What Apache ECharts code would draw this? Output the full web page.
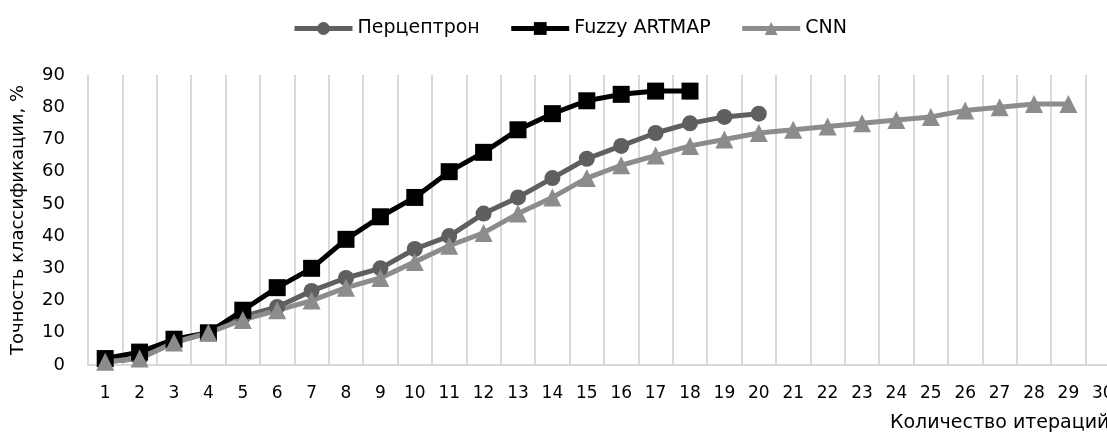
<!DOCTYPE html>
<html>
<head>
<meta charset="utf-8">
<script src="https://cdn.jsdelivr.net/npm/echarts@6/dist/echarts.min.js"></script>
<style>html,body{margin:0;padding:0;background:#fff}#c{width:1107px;height:438px}</style>
</head>
<body>
<div id="c"></div>
<script>
const categories = ['1','2','3','4','5','6','7','8','9','10','11','12','13','14','15','16','17','18','19','20','21','22','23','24','25','26','27','28','29','30'];
const seriesNames = ['Перцептрон', 'Fuzzy ARTMAP', 'CNN'];
const perceptron = [1, 2, 7, 10, 15, 18, 23, 27, 30, 36, 40, 47, 52, 58, 64, 68, 72, 75, 77, 78];
const fuzzyArtmap = [2, 4, 8, 10, 17, 24, 30, 39, 46, 52, 60, 66, 73, 78, 82, 84, 85, 85];
const cnn = [1, 2, 7, 10, 14, 17, 20, 24, 27, 32, 37, 41, 47, 52, 58, 62, 65, 68, 70, 72, 73, 74, 75, 76, 77, 79, 80, 81, 81];
const yTicks = [0, 10, 20, 30, 40, 50, 60, 70, 80, 90];
const yTitle = 'Точность классификации, %';
const xTitle = 'Количество итераций';

const FONT = 'DejaVu Sans';
const chart = echarts.init(document.getElementById('c'), null, {renderer: 'canvas'});
function mk(name, data, color, symbol, size) {
  return {
    name: name, type: 'line', data: data,
    symbol: symbol, symbolSize: size,
    lineStyle: {color: color, width: 5},
    itemStyle: {color: color},
    animation: false
  };
}
chart.setOption({
  animation: false,
  backgroundColor: '#fff',
  textStyle: {fontFamily: FONT},
  legend: {
    top: 14, left: 287,
    itemWidth: 58, itemHeight: 16, itemGap: 29,
    lineStyle: {width: 5},
    textStyle: {fontFamily: FONT, fontSize: 19, color: '#000'},
    data: seriesNames
  },
  grid: {left: 88, width: 1032, top: 75, height: 290, containLabel: false, outerBoundsMode: 'none'},
  xAxis: {
    type: 'category', data: categories, boundaryGap: true,
    axisLine: {show: true, lineStyle: {color: '#d9d9d9', width: 2}},
    axisTick: {show: false},
    splitLine: {show: true, lineStyle: {color: '#d9d9d9', width: 2}},
    axisLabel: {color: '#000', fontFamily: FONT, fontSize: 17, margin: 20, interval: 0}
  },
  yAxis: {
    type: 'value', min: yTicks[0], max: yTicks[yTicks.length - 1], interval: 10,
    name: yTitle, nameLocation: 'middle', nameGap: 61,
    nameTextStyle: {fontFamily: FONT, fontSize: 18, color: '#000'},
    axisLine: {show: false}, axisTick: {show: false},
    splitLine: {show: false},
    axisLabel: {color: '#000', fontFamily: FONT, fontSize: 18, margin: 23}
  },
  graphic: [{
    type: 'text', left: 890, top: 414,
    style: {text: xTitle, font: '19px "DejaVu Sans"', fill: '#000'}
  }],
  series: [
    mk(seriesNames[0], perceptron, '#5f5f5f', 'circle', 16),
    mk(seriesNames[1], fuzzyArtmap, '#000000', 'rect', 17),
    mk(seriesNames[2], cnn, '#8c8c8c', 'triangle', 18)
  ]
});
</script>
</body>
</html>
